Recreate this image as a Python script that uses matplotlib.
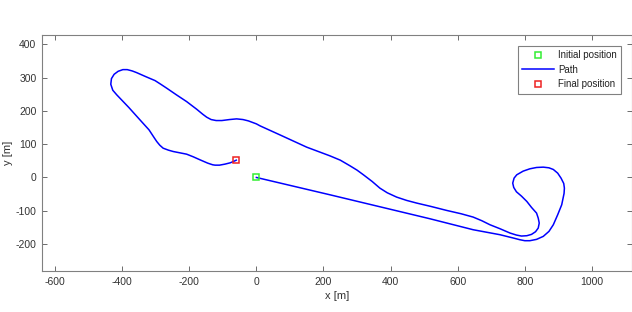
import matplotlib
matplotlib.use("Agg")
import matplotlib.pyplot as plt
from matplotlib.lines import Line2D

plt.rcParams['font.family'] = ['Liberation Sans', 'DejaVu Sans']
plt.rcParams['axes.unicode_minus'] = False

path_x = [0, 219, 517, 646, 726, 766, 785, 800, 815, 835, 855, 872, 885, 898, 910,
          917, 918, 916, 908, 898, 885, 872, 855, 835, 815, 795, 776, 768, 764, 767,
          775, 790, 806, 820, 835, 840, 843, 840, 832, 820, 806, 790, 775, 756, 726,
          696, 672, 646, 610, 567, 520, 478, 448, 418, 390, 368, 345, 319, 300, 279,
          250, 219, 150, 70, 11, 0, -24, -40, -59, -80, -103, -120, -135, -148, -160,
          -178, -208, -238, -267, -285, -302, -330, -357, -370, -385, -398, -412, -424,
          -432, -434, -428, -416, -380, -347, -320, -305, -297, -288, -278, -262, -248,
          -228, -208, -188, -168, -145, -130, -123, -110, -94, -78, -64, -60]
path_y = [0, -52, -124, -157, -172, -182, -187, -190, -190, -186, -177, -162, -142,
          -112, -82, -48, -32, -18, -2, 13, 24, 29, 31, 30, 26, 19, 8, -2, -17, -30,
          -43, -56, -72, -90, -107, -122, -137, -152, -163, -171, -175, -176, -173,
          -167, -154, -142, -130, -119, -109, -99, -87, -77, -69, -59, -46, -32, -12,
          8, 22, 35, 52, 65, 91, 128, 155, 161, 170, 174, 176, 174, 171, 171, 174, 181,
          190, 205, 228, 248, 268, 280, 291, 303, 315, 320, 324, 324, 319, 310, 297,
          280, 262, 248, 210, 173, 143, 120, 108, 97, 88, 82, 78, 74, 70, 62, 53, 43,
          38, 37, 37, 40, 44, 50, 52]

initial_pos = (0, 0)
final_pos = (-60, 52)

x_ticks = [-600, -400, -200, 0, 200, 400, 600, 800, 1000]
y_ticks = [-200, -100, 0, 100, 200, 300, 400]

W, H = 632, 312
fig = plt.figure(figsize=(W / 100, H / 100), dpi=100)
ax = fig.add_axes([42 / W, (H - 271) / H, (631.5 - 42) / W, (271 - 35) / H])

ax.plot(path_x, path_y, color='#0000ff', lw=1.1, label='Path', zorder=2,
        solid_joinstyle='round')
ax.plot([initial_pos[0]], [initial_pos[1]], 's', mfc='none', mec='#33ee33', mew=1.1,
        ms=4.5, zorder=3, label='Initial position')
ax.plot([final_pos[0]], [final_pos[1]], 's', mfc='none', mec='#ee2222', mew=1.1,
        ms=4.5, zorder=3, label='Final position')

ax.set_xlim(-639, 1118)
ax.set_ylim(-281, 428)
ax.set_xticks(x_ticks)
ax.set_yticks(y_ticks)
ax.tick_params(direction='in', top=True, right=True, length=3.5, width=0.6,
               color='#555555', labelsize=7.5, labelcolor='#333333', pad=4)
for s in ax.spines.values():
    s.set_color('#808080')
    s.set_linewidth(0.8)

ax.set_xlabel('x [m]', fontsize=8, color='#333333', labelpad=3)
ax.set_ylabel('y [m]', fontsize=8, color='#333333', labelpad=2)

handles = [
    Line2D([], [], ls='none', marker='s', mfc='none', mec='#33ee33', mew=1.1, ms=4.5),
    Line2D([], [], color='#0000ff', lw=1.1),
    Line2D([], [], ls='none', marker='s', mfc='none', mec='#ee2222', mew=1.1, ms=4.5),
]
labels = ['Initial position', 'Path', 'Final position']
leg = ax.legend(handles, labels, loc='upper right',
                bbox_to_anchor=(621 / W, 1 - 46 / H), bbox_transform=fig.transFigure,
                borderaxespad=0, fontsize=7, handlelength=3.3, handletextpad=0.4,
                labelspacing=0.45, borderpad=0.45, fancybox=False, framealpha=1,
                edgecolor='#808080')
leg.get_frame().set_linewidth(0.8)
for t in leg.get_texts():
    t.set_color('#222222')

fig.savefig('out.png', dpi=100)
